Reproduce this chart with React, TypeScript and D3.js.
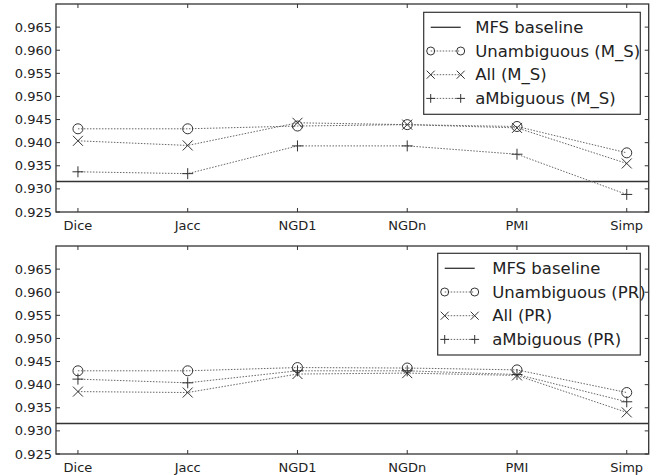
import React, { useEffect, useRef } from 'react';
import * as d3 from 'd3';

const categories = ['Dice', 'Jacc', 'NGD1', 'NGDn', 'PMI', 'Simp'];
const yTicks = [0.925, 0.93, 0.935, 0.94, 0.945, 0.95, 0.955, 0.96, 0.965];
const baseline = 0.9316;

const unambMS = [0.943, 0.943, 0.9436, 0.9439, 0.9435, 0.9378];
const allMS = [0.9404, 0.9394, 0.9443, 0.9439, 0.9432, 0.9355];
const ambMS = [0.9337, 0.9333, 0.9393, 0.9393, 0.9375, 0.9288];

const unambPR = [0.943, 0.943, 0.9437, 0.9436, 0.9432, 0.9383];
const allPR = [0.9385, 0.9383, 0.9423, 0.9425, 0.942, 0.934];
const ambPR = [0.9412, 0.9404, 0.943, 0.943, 0.9422, 0.9363];

const W = 657;
const H = 475;
const ink = '#333';
const font = '"DejaVu Sans", sans-serif';

function drawMarker(g: any, kind: string, x: number, y: number, s = 5) {
  if (kind === 'o') {
    g.append('circle').attr('cx', x).attr('cy', y).attr('r', s)
      .attr('fill', 'none').attr('stroke', ink).attr('stroke-width', 1);
  } else if (kind === 'x') {
    g.append('path').attr('d', `M${x - s},${y - s}L${x + s},${y + s}M${x - s},${y + s}L${x + s},${y - s}`)
      .attr('stroke', ink).attr('stroke-width', 1);
  } else {
    const p = s * 1.1;
    g.append('path').attr('d', `M${x - p},${y}L${x + p},${y}M${x},${y - p}L${x},${y + p}`)
      .attr('stroke', ink).attr('stroke-width', 1);
  }
}

function drawPanel(svg: any, top: number, suffix: string, series: number[][], legendBox: number[]) {
  const left = 56, right = 648.7, bottom = top + 208;
  const x = d3.scaleLinear().domain([-0.2, categories.length - 0.8]).range([left, right]);
  const y = d3.scaleLinear().domain([0.925, 0.97]).range([bottom, top]);
  const g = svg.append('g');

  // baseline
  g.append('line').attr('x1', left).attr('x2', right)
    .attr('y1', y(baseline)).attr('y2', y(baseline))
    .attr('stroke', ink).attr('stroke-width', 1.3);

  const kinds = ['o', 'x', '+'];
  const line = d3.line<number>().x((d, i) => x(i)).y(d => y(d));
  series.forEach((s, k) => {
    g.append('path').attr('d', line(s)).attr('fill', 'none')
      .attr('stroke', '#666').attr('stroke-width', 1).attr('stroke-dasharray', '1.5,1.5');
    s.forEach((v, i) => drawMarker(g, kinds[k], x(i), y(v)));
  });

  // ticks (inward, all four sides)
  yTicks.forEach(t => {
    g.append('line').attr('x1', left).attr('x2', left + 4).attr('y1', y(t)).attr('y2', y(t)).attr('stroke', ink);
    g.append('line').attr('x1', right).attr('x2', right - 4).attr('y1', y(t)).attr('y2', y(t)).attr('stroke', ink);
    g.append('text').attr('x', left - 4).attr('y', y(t)).attr('dy', '0.35em')
      .attr('text-anchor', 'end').attr('font-family', font).attr('font-size', 13)
      .attr('fill', '#222').text(d3.format('.3f')(t));
  });
  categories.forEach((c, i) => {
    g.append('line').attr('x1', x(i)).attr('x2', x(i)).attr('y1', bottom).attr('y2', bottom - 4).attr('stroke', ink);
    g.append('line').attr('x1', x(i)).attr('x2', x(i)).attr('y1', top).attr('y2', top + 4).attr('stroke', ink);
    g.append('text').attr('x', x(i)).attr('y', bottom + 13).attr('dy', '0.35em')
      .attr('text-anchor', 'middle').attr('font-family', font).attr('font-size', 13)
      .attr('fill', '#222').text(c);
  });

  g.append('rect').attr('x', left).attr('y', top).attr('width', right - left).attr('height', bottom - top)
    .attr('fill', 'none').attr('stroke', ink).attr('stroke-width', 1.3);

  // legend
  const [lx, ly, lw, lh, tx] = legendBox;
  const lg = g.append('g');
  lg.append('rect').attr('x', lx).attr('y', ly).attr('width', lw).attr('height', lh)
    .attr('fill', '#fff').attr('stroke', ink).attr('stroke-width', 1.2);
  const labels = ['MFS baseline', `Unambiguous (${suffix})`, `All (${suffix})`, `aMbiguous (${suffix})`];
  const rowH = 23.7;
  const sx0 = lx + 7, sx1 = lx + 37;
  labels.forEach((lab, k) => {
    const ry = ly + 15 + k * rowH;
    if (k === 0) {
      lg.append('line').attr('x1', sx0).attr('x2', sx1).attr('y1', ry).attr('y2', ry).attr('stroke', ink).attr('stroke-width', 1.3);
    } else {
      lg.append('line').attr('x1', sx0).attr('x2', sx1).attr('y1', ry).attr('y2', ry)
        .attr('stroke', '#666').attr('stroke-dasharray', '1.5,1.5');
      drawMarker(lg, kinds[k - 1], sx0, ry, 4);
      drawMarker(lg, kinds[k - 1], sx1, ry, 4);
    }
    lg.append('text').attr('x', lx + tx).attr('y', ry).attr('dy', '0.35em')
      .attr('font-family', font).attr('font-size', 16.5).attr('fill', '#222').text(lab);
  });
}

export default function App() {
  const ref = useRef<SVGSVGElement>(null);
  useEffect(() => {
    const svg = d3.select(ref.current);
    svg.selectAll('*').remove();
    drawPanel(svg, 4, 'M_S', [unambMS, allMS, ambMS], [423.7, 12.3, 216.6, 102, 51.5]);
    drawPanel(svg, 246, 'PR', [unambPR, allPR, ambPR], [437.7, 253.3, 202.6, 101.7, 54.5]);
  }, []);
  return (
    <svg ref={ref} width={W} height={H}
      style={{ position: 'absolute', left: 0, top: 0, background: '#fff' }} />
  );
}
